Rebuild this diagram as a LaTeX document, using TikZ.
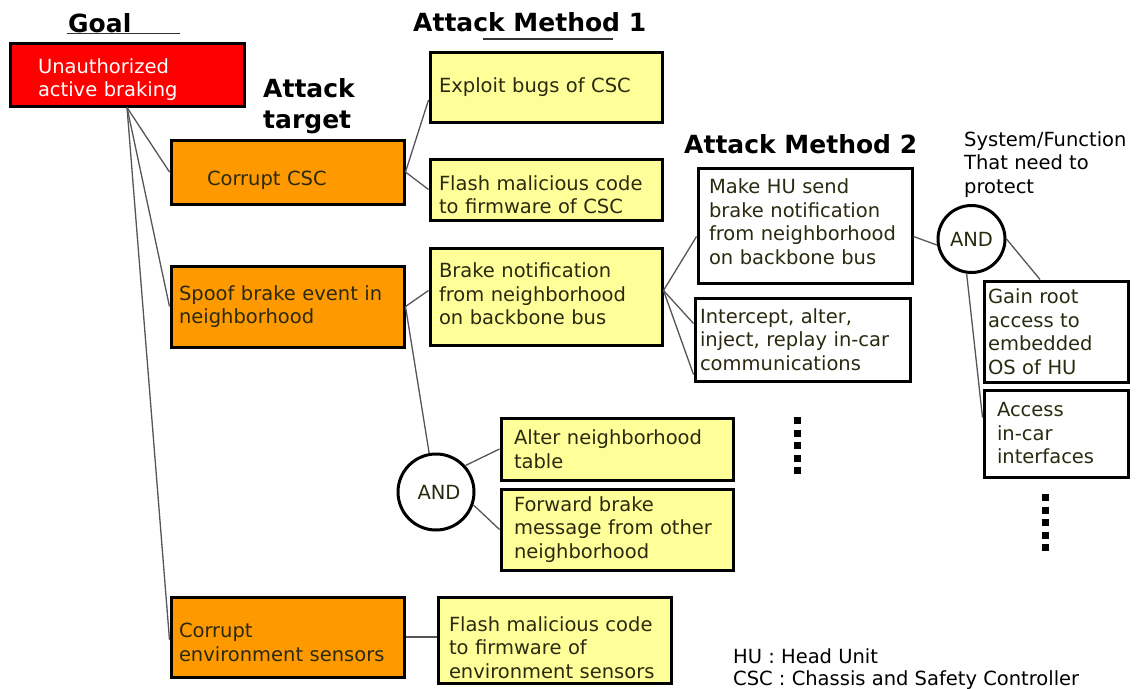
\documentclass[tikz,border=0pt]{standalone}
\usepackage{fontspec}
\setmainfont{DejaVu Sans}
\definecolor{goalred}{HTML}{FF0000}
\definecolor{tgtorange}{HTML}{FF9900}
\definecolor{mthyellow}{HTML}{FFFF99}
\definecolor{txtdark}{HTML}{2A2A10}
\definecolor{linkgray}{HTML}{555555}
\newcommand\shiftlines[2]{\noindent\raisebox{#1}[\height][\depth]{\begin{tabular}{@{}l@{}}#2\end{tabular}}}
\begin{document}
\begin{tikzpicture}[x=1pt,y=-1pt,
  every node/.style={font=\fontsize{19.5}{23.5}\selectfont},
  box/.style={draw=black, line width=3pt, align=left, inner ysep=0pt, text=txtdark},
  goalbox/.style={box, fill=goalred, text=white},
  tgtbox/.style={box, fill=tgtorange},
  mone/.style={box, fill=mthyellow},
  mtwo/.style={box, fill=white},
  andgate/.style={circle, draw=black, line width=3pt, fill=white, inner sep=0pt, minimum size=#1, text=txtdark},
  title/.style={font=\bfseries\fontsize{25}{31}\selectfont, inner sep=0pt, text=black},
  plain/.style={inner sep=0pt, align=left, text=black},
  link/.style={draw=linkgray, line width=1.3pt},
  uline/.style={draw=black!80, line width=1.5pt},
]
\useasboundingbox (0,0) rectangle (1137,688);

% titles
\node[title, anchor=base west] (tgoal) at (68,32) {Goal};
\node[title, anchor=base west] (tm1) at (413,31.5) {Attack Method 1};
\node[title, anchor=west, align=left] (ttgt) at (263,106) {Attack\\target};
\node[title, anchor=base west] (tm2) at (684,153) {Attack Method 2};
\node[plain, anchor=west] (tsys) at (964,164.5) {System/Function\\That need to\\protect};
\path[uline] ([xshift=-1pt,yshift=-1.5pt]tgoal.base west) -- ++(113,0);
\path[uline] ([xshift=70pt,yshift=-7.5pt]tm1.base west) -- ++(130,0);

% goal and targets
\node[goalbox, minimum width=234pt, minimum height=63pt, text width=178pt, inner xsep=28pt] (goal) at (127,74.5) {\shiftlines{-6pt}{Unauthorized\\active braking}};
\node[tgtbox, minimum width=233pt, minimum height=64pt, text width=161pt, inner xsep=36pt] (csc) at (287.5,172) {\shiftlines{-9pt}{Corrupt CSC}};
\node[tgtbox, minimum width=233pt, minimum height=81pt, text width=217pt, inner xsep=8pt] (spoof) at (287.5,306.5) {Spoof brake event in\\neighborhood};
\node[tgtbox, minimum width=233pt, minimum height=80pt, text width=217pt, inner xsep=8pt] (env) at (287.5,637) {\shiftlines{-8pt}{Corrupt\\environment sensors}};

% method 1
\node[mone, minimum width=232pt, minimum height=70pt, text width=214pt, inner xsep=9pt] (exploit) at (546,87) {Exploit bugs of CSC};
\node[mone, minimum width=232pt, minimum height=61pt, text width=214pt, inner xsep=9pt] (flashcsc) at (546,189.5) {\shiftlines{-8pt}{Flash malicious code\\to firmware of CSC}};
\node[mone, minimum width=232pt, minimum height=97pt, text width=214pt, inner xsep=9pt] (brake) at (546,296.5) {\shiftlines{0pt}{Brake notification\\from neighborhood\\on backbone bus}};
\node[mone, minimum width=232pt, minimum height=62pt, text width=206pt, inner xsep=13pt] (alter) at (617,449) {Alter neighborhood\\table};
\node[mone, minimum width=232pt, minimum height=81pt, text width=206pt, inner xsep=13pt] (forward) at (617,529.5) {Forward brake\\message from other\\neighborhood};
\node[mone, minimum width=233pt, minimum height=86pt, text width=211pt, inner xsep=11pt] (flashenv) at (554.5,640) {\shiftlines{-10pt}{Flash malicious code\\to firmware of\\environment sensors}};
\node[andgate=76pt] (and1) at (436,492) {\hspace*{6pt}AND};

% method 2
\node[mtwo, minimum width=214pt, minimum height=115pt, text width=192pt, inner xsep=11pt] (makehu) at (805,225.5) {\shiftlines{1pt}{Make HU send\\brake notification\\from neighborhood\\on backbone bus}};
\node[mtwo, minimum width=215pt, minimum height=83pt, text width=205pt, inner xsep=5pt] (intercept) at (802.5,339.5) {Intercept, alter,\\inject, replay in-car\\communications};
\node[andgate=67pt] (and2) at (971.5,239) {AND};
\node[mtwo, minimum width=144pt, minimum height=101pt, text width=136pt, inner xsep=4pt] (gainroot) at (1056,331.5) {Gain root\\access to\\embedded\\OS of HU};
\node[mtwo, minimum width=144pt, minimum height=87pt, text width=118pt, inner xsep=13pt] (access) at (1056,433.5) {Access\\in-car\\interfaces};

% connectors
\path[link] (goal.south) -- (csc.west);
\path[link] (goal.south) -- (spoof.west);
\path[link] (goal.south) -- ([yshift=-3pt]env.west);
\path[link] (csc.east) -- ([yshift=-13pt]exploit.west);
\path[link] (csc.east) -- (flashcsc.west);
\path[link] (spoof.east) -- ([yshift=6pt]brake.west);
\path[link] (spoof.east) -- (and1.100);
\path[link] (and1.42) -- (alter.west);
\path[link] (and1.-19) -- (forward.west);
\path[link] (env.east) -- (env.east -| flashenv.west);
\path[link] ([yshift=6pt]brake.east) -- ([yshift=-11pt]makehu.west);
\path[link] ([yshift=6pt]brake.east) -- ([yshift=16pt]intercept.west);
\path[link] ([yshift=6pt]brake.east) -- ([yshift=-35pt]intercept.west);
\path[link] ([yshift=-11pt]makehu.east) -- (and2.190);
\path[link] (and2.east) -- ([xshift=-16pt]gainroot.north);
\path[link] (and2.262) -- ([yshift=16pt]access.west);

% continuation dots
\draw[line width=7pt, dash pattern=on 7pt off 5.5pt] (797,417) -- (797,475);
\draw[line width=7pt, dash pattern=on 7pt off 5.5pt] (1045,494) -- (1045,552);

% legend
\node[plain, anchor=base west] (leg1) at (733,663) {HU : Head Unit};
\node[plain, anchor=base west] (leg2) at (733,685) {CSC : Chassis and Safety Controller};
\end{tikzpicture}
\end{document}
